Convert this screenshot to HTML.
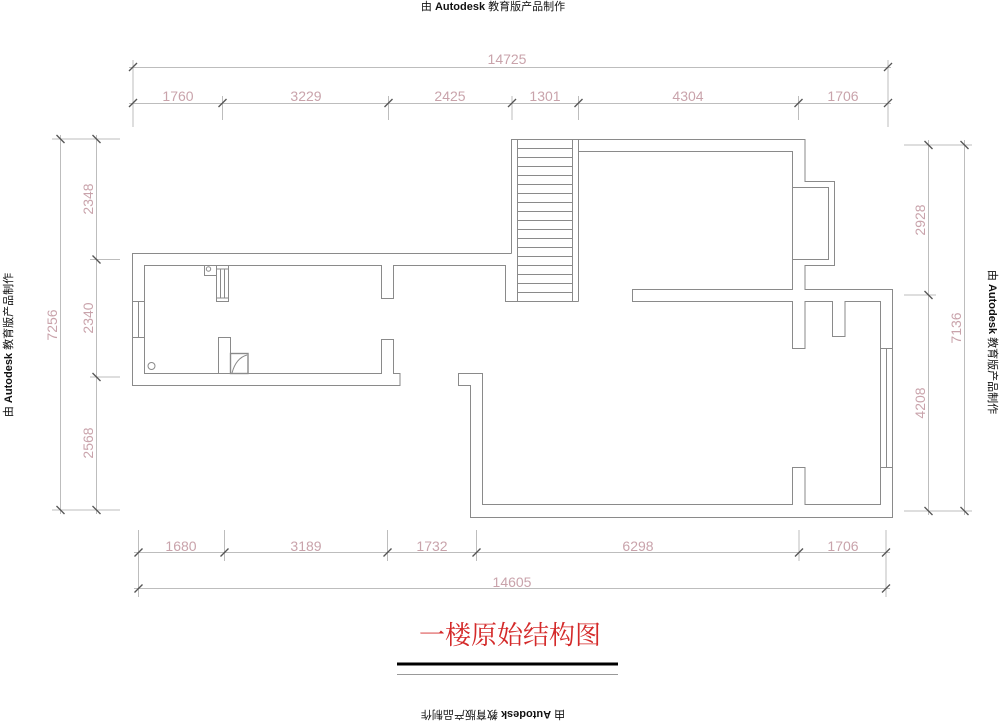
<!DOCTYPE html>
<html><head><meta charset="utf-8"><style>
html,body{margin:0;padding:0;background:#fff;}
svg{display:block;}
.w{fill:none;stroke:#8a8a8a;stroke-width:1;}
.d{fill:none;stroke:#bdbdbd;stroke-width:1;}
.t{stroke:#555;stroke-width:1.3;}
.n{font-family:"Liberation Sans",sans-serif;font-size:14px;fill:#c9a3ab;font-weight:300;}
.wm{font-family:"Liberation Sans","Noto Sans CJK SC",sans-serif;font-size:11px;fill:#111;}
</style></head><body>
<svg width="1000" height="721" viewBox="0 0 1000 721" xmlns="http://www.w3.org/2000/svg">
<!-- watermarks -->
<text class="wm" x="493" y="10" text-anchor="middle">由 <tspan font-weight="bold">Autodesk</tspan> 教育版产品制作</text>
<text class="wm" text-anchor="middle" transform="translate(493,711) rotate(180)">由 <tspan font-weight="bold">Autodesk</tspan> 教育版产品制作</text>
<text class="wm" text-anchor="middle" transform="translate(12,345) rotate(-90)">由 <tspan font-weight="bold">Autodesk</tspan> 教育版产品制作</text>
<text class="wm" text-anchor="middle" transform="translate(989,342) rotate(90)">由 <tspan font-weight="bold">Autodesk</tspan> 教育版产品制作</text>

<!-- top dims -->
<g class="d">
<line x1="129" y1="67.5" x2="891" y2="67.5"/>
<line x1="129" y1="103.5" x2="891" y2="103.5"/>
<line x1="133" y1="60" x2="133" y2="127"/>
<line x1="888" y1="60" x2="888" y2="127"/>
<line x1="222.5" y1="96" x2="222.5" y2="120"/>
<line x1="388.5" y1="96" x2="388.5" y2="120"/>
<line x1="512" y1="96" x2="512" y2="120"/>
<line x1="578.5" y1="96" x2="578.5" y2="120"/>
<line x1="798.5" y1="96" x2="798.5" y2="120"/>
</g>
<g class="t">
<line x1="129" y1="71" x2="137" y2="63"/><line x1="884" y1="71" x2="892" y2="63"/>
<line x1="129" y1="107" x2="137" y2="99"/><line x1="218.5" y1="107" x2="226.5" y2="99"/>
<line x1="384.5" y1="107" x2="392.5" y2="99"/><line x1="508" y1="107" x2="516" y2="99"/>
<line x1="574.5" y1="107" x2="582.5" y2="99"/><line x1="794.5" y1="107" x2="802.5" y2="99"/>
<line x1="884" y1="107" x2="892" y2="99"/>
</g>
<g class="n" text-anchor="middle">
<text x="507" y="64">14725</text>
<text x="178" y="101">1760</text><text x="306" y="101">3229</text>
<text x="450" y="101">2425</text><text x="545" y="101">1301</text>
<text x="688" y="101">4304</text><text x="843" y="101">1706</text>
</g>

<!-- bottom dims -->
<g class="d">
<line x1="134" y1="552.5" x2="890" y2="552.5"/>
<line x1="134" y1="588.5" x2="890" y2="588.5"/>
<line x1="138.5" y1="530" x2="138.5" y2="597"/>
<line x1="886" y1="530" x2="886" y2="597"/>
<line x1="224.5" y1="530" x2="224.5" y2="561"/>
<line x1="387.5" y1="530" x2="387.5" y2="561"/>
<line x1="476.5" y1="530" x2="476.5" y2="561"/>
<line x1="799" y1="530" x2="799" y2="561"/>
</g>
<g class="t">
<line x1="134.5" y1="556.5" x2="142.5" y2="548.5"/><line x1="220.5" y1="556.5" x2="228.5" y2="548.5"/>
<line x1="383.5" y1="556.5" x2="391.5" y2="548.5"/><line x1="472.5" y1="556.5" x2="480.5" y2="548.5"/>
<line x1="795" y1="556.5" x2="803" y2="548.5"/><line x1="882" y1="556.5" x2="890" y2="548.5"/>
<line x1="134.5" y1="592.5" x2="142.5" y2="584.5"/><line x1="882" y1="592.5" x2="890" y2="584.5"/>
</g>
<g class="n" text-anchor="middle">
<text x="181" y="551">1680</text><text x="306" y="551">3189</text>
<text x="432" y="551">1732</text><text x="638" y="551">6298</text>
<text x="843" y="551">1706</text><text x="512" y="587">14605</text>
</g>

<!-- left dims -->
<g class="d">
<line x1="60.5" y1="135" x2="60.5" y2="514"/>
<line x1="96.5" y1="135" x2="96.5" y2="514"/>
<line x1="52" y1="139" x2="120" y2="139"/>
<line x1="52" y1="510" x2="120" y2="510"/>
<line x1="90" y1="259.5" x2="120" y2="259.5"/>
<line x1="90" y1="377" x2="120" y2="377"/>
</g>
<g class="t">
<line x1="56.5" y1="135" x2="64.5" y2="143"/><line x1="92.5" y1="135" x2="100.5" y2="143"/>
<line x1="92.5" y1="255.5" x2="100.5" y2="263.5"/><line x1="92.5" y1="373" x2="100.5" y2="381"/>
<line x1="56.5" y1="506" x2="64.5" y2="514"/><line x1="92.5" y1="506" x2="100.5" y2="514"/>
</g>
<g class="n" text-anchor="middle">
<text transform="translate(93,199) rotate(-90)">2348</text>
<text transform="translate(93,318) rotate(-90)">2340</text>
<text transform="translate(93,443) rotate(-90)">2568</text>
<text transform="translate(57,325) rotate(-90)">7256</text>
</g>

<!-- right dims -->
<g class="d">
<line x1="928.5" y1="140" x2="928.5" y2="515"/>
<line x1="964.5" y1="140" x2="964.5" y2="515"/>
<line x1="904" y1="145" x2="972" y2="145"/>
<line x1="904" y1="511" x2="972" y2="511"/>
<line x1="904" y1="295" x2="936" y2="295"/>
</g>
<g class="t">
<line x1="924.5" y1="141" x2="932.5" y2="149"/><line x1="960.5" y1="141" x2="968.5" y2="149"/>
<line x1="924.5" y1="291" x2="932.5" y2="299"/>
<line x1="924.5" y1="507" x2="932.5" y2="515"/><line x1="960.5" y1="507" x2="968.5" y2="515"/>
</g>
<g class="n" text-anchor="middle">
<text transform="translate(925,220) rotate(-90)">2928</text>
<text transform="translate(925,403) rotate(-90)">4208</text>
<text transform="translate(961,328) rotate(-90)">7136</text>
</g>

<!-- walls -->
<g class="w">
<!-- left wing outer -->
<polyline points="511.5,253.5 132.5,253.5 132.5,385.5 400,385.5 400,373.5 393.5,373.5 393.5,339.5 381.5,339.5 381.5,373.5 144.5,373.5 144.5,265.5 381.5,265.5 381.5,298.5 393.5,298.5 393.5,265.5 505.5,265.5 505.5,301.5 517.5,301.5"/>
<line x1="132.5" y1="301.5" x2="144.5" y2="301.5"/>
<line x1="132.5" y1="337.5" x2="144.5" y2="337.5"/>
<line x1="138.5" y1="301.5" x2="138.5" y2="337.5"/>
<!-- fixtures -->
<rect x="204.5" y="265.5" width="12" height="10"/>
<circle cx="208.5" cy="269" r="2.2"/>
<rect x="216.5" y="265.5" width="12" height="36"/>
<line x1="220.5" y1="269" x2="220.5" y2="298"/><line x1="224.5" y1="269" x2="224.5" y2="298"/>
<line x1="216.5" y1="298" x2="228.5" y2="298"/><line x1="216.5" y1="269" x2="228.5" y2="269"/>
<polyline points="218.5,373.5 218.5,337.5 230.5,337.5 230.5,373.5"/>
<rect x="230.5" y="353.5" width="17.5" height="20" style="stroke-width:1.4"/>
<path d="M232,373 Q236,358 247,355"/>
<circle cx="151.5" cy="366" r="3.5"/>
<!-- stairs -->
<polyline points="511.5,253.5 511.5,139.5 805,139.5 805,181.5 834.5,181.5 834.5,265.5 805,265.5 805,289.5 892.5,289.5 892.5,517.5 470.5,517.5 470.5,385.5 458.5,385.5 458.5,373.5 482.5,373.5 482.5,504.5 792.5,504.5 792.5,467.5 805,467.5 805,504.5 880.5,504.5 880.5,301.5 845,301.5 845,336.5 832.5,336.5 832.5,301.5 805,301.5 805,348.5 792.5,348.5 792.5,301.5 632.5,301.5 632.5,289.5 792.5,289.5 792.5,151.5 578.5,151.5"/>
<line x1="578.5" y1="139.5" x2="578.5" y2="301.5"/>
<line x1="505.5" y1="301.5" x2="578.5" y2="301.5"/>
<line x1="517.5" y1="139.5" x2="517.5" y2="301.5"/>
<line x1="572.5" y1="139.5" x2="572.5" y2="301.5"/>
<g>
<line x1="517.5" y1="148.5" x2="572.5" y2="148.5"/><line x1="517.5" y1="157.5" x2="572.5" y2="157.5"/>
<line x1="517.5" y1="166.5" x2="572.5" y2="166.5"/><line x1="517.5" y1="175.5" x2="572.5" y2="175.5"/>
<line x1="517.5" y1="184.5" x2="572.5" y2="184.5"/><line x1="517.5" y1="193.5" x2="572.5" y2="193.5"/>
<line x1="517.5" y1="202.5" x2="572.5" y2="202.5"/><line x1="517.5" y1="211.5" x2="572.5" y2="211.5"/>
<line x1="517.5" y1="220.5" x2="572.5" y2="220.5"/><line x1="517.5" y1="229.5" x2="572.5" y2="229.5"/>
<line x1="517.5" y1="238.5" x2="572.5" y2="238.5"/><line x1="517.5" y1="247.5" x2="572.5" y2="247.5"/>
<line x1="517.5" y1="256.5" x2="572.5" y2="256.5"/><line x1="517.5" y1="265.5" x2="572.5" y2="265.5"/>
<line x1="517.5" y1="274.5" x2="572.5" y2="274.5"/><line x1="517.5" y1="283.5" x2="572.5" y2="283.5"/>
<line x1="517.5" y1="292.5" x2="572.5" y2="292.5"/>
</g>
<!-- bay -->
<polyline points="792.5,187.5 828.5,187.5 828.5,259.5 792.5,259.5"/>
<!-- right window -->
<line x1="880.5" y1="348.5" x2="892.5" y2="348.5"/>
<line x1="880.5" y1="467.5" x2="892.5" y2="467.5"/>
<line x1="886.5" y1="348.5" x2="886.5" y2="467.5"/>
</g>

<!-- title -->
<text x="510" y="644" text-anchor="middle" font-family="'Liberation Serif','Noto Serif CJK SC',serif" font-size="26" fill="#d42a2a">一楼原始结构图</text>
<rect x="397" y="662.5" width="221" height="3" fill="#000"/>
<line x1="397" y1="674.5" x2="618" y2="674.5" stroke="#999" stroke-width="1"/>
</svg>
</body></html>
